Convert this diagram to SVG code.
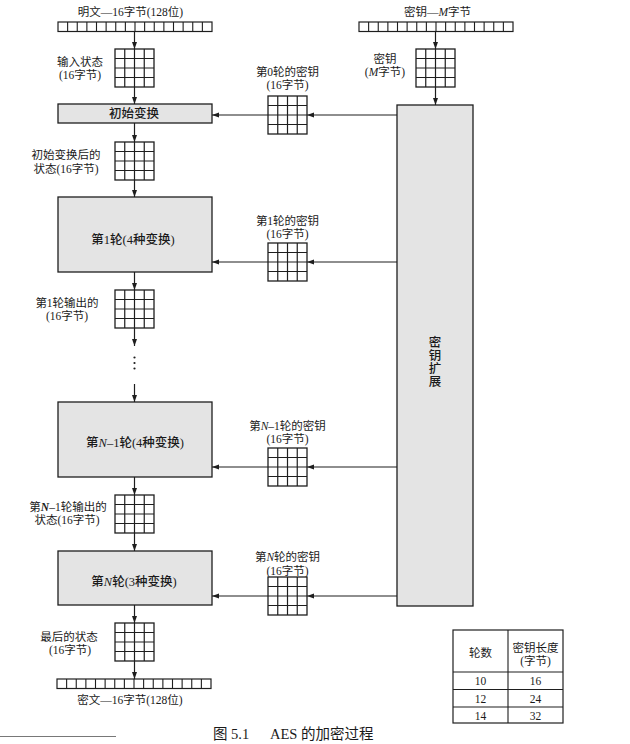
<svg xmlns="http://www.w3.org/2000/svg" width="630" height="744" viewBox="0 0 630 744">
<style>
.ln{stroke:#1e1e1e;stroke-width:1.2;fill:none}
.box{fill:#e4e4e4;stroke:#1e1e1e;stroke-width:1.3}
.t{font-family:"Liberation Serif","Noto Sans CJK SC",serif;font-size:11.5px;fill:#1a1a1a;text-anchor:middle}
.bt{font-family:"Liberation Serif","Noto Sans CJK SC",serif;font-size:12.5px;fill:#1a1a1a;text-anchor:middle;font-weight:500}
.it{font-style:italic}
.cap{font-family:"Liberation Serif","Noto Sans CJK SC",serif;font-size:14.5px;fill:#1a1a1a}
</style>
<defs>
<marker id="ah" markerUnits="userSpaceOnUse" markerWidth="8" markerHeight="6" refX="7" refY="3" orient="auto">
<path d="M0,0.5 L7,3 L0,5.5 z" fill="#1e1e1e"/>
</marker>
<g id="g4">
<rect x="0" y="0" width="39" height="38" fill="#fff" stroke="#1e1e1e" stroke-width="1.3"/>
<path d="M9.75,0V38M19.5,0V38M29.25,0V38M0,9.5H39M0,19H39M0,28.5H39" stroke="#1e1e1e" stroke-width="1.2" fill="none"/>
</g>
<g id="bar16">
<rect x="0" y="0" width="154" height="9.5" fill="#fff" stroke="#1e1e1e" stroke-width="1.2"/>
<path d="M9.625,0v9.5M19.25,0v9.5M28.875,0v9.5M38.5,0v9.5M48.125,0v9.5M57.75,0v9.5M67.375,0v9.5M77,0v9.5M86.625,0v9.5M96.25,0v9.5M105.875,0v9.5M115.5,0v9.5M125.125,0v9.5M134.75,0v9.5M144.375,0v9.5" stroke="#1e1e1e" stroke-width="1.1" fill="none"/>
</g>
</defs>
<rect x="0" y="0" width="630" height="744" fill="#fff"/>

<g id="plaintext">
<text class="t" x="130.5" y="16">明文—16字节(128位)</text>
<use href="#bar16" x="58" y="22"/>
</g>
<g id="input-state">
<use href="#g4" x="115" y="49"/>
<text class="t" x="80" y="65.5">输入状态</text>
<text class="t" x="80" y="79">(16字节)</text>
</g>
<g id="initial-transform">
<rect class="box" x="58" y="104" width="154" height="19"/>
<text class="bt" x="134" y="118">初始变换</text>
</g>
<g id="state-after-initial">
<use href="#g4" x="115" y="142"/>
<text class="t" x="66" y="159">初始变换后的</text>
<text class="t" x="66" y="172.5">状态(16字节)</text>
</g>
<g id="round1">
<rect class="box" x="58" y="197" width="154" height="75"/>
<text class="bt" x="133" y="244">第1轮(4种变换)</text>
</g>
<g id="round1-output">
<use href="#g4" x="115" y="290"/>
<text class="t" x="67" y="306.5">第1轮输出的</text>
<text class="t" x="67" y="320">(16字节)</text>
</g>
<g id="ellipsis">
<circle cx="134.5" cy="357.5" r="1.1" fill="#1e1e1e"/>
<circle cx="134.5" cy="363" r="1.1" fill="#1e1e1e"/>
<circle cx="134.5" cy="368.5" r="1.1" fill="#1e1e1e"/>
</g>
<g id="roundN-1">
<rect class="box" x="58" y="402" width="154" height="75"/>
<text class="bt" x="135" y="447">第<tspan class="it">N</tspan>–1轮(4种变换)</text>
</g>
<g id="roundN-1-output">
<use href="#g4" x="115" y="495"/>
<text class="t" x="68" y="510.5">第<tspan class="it" font-weight="bold">N</tspan>–1轮输出的</text>
<text class="t" x="67" y="524">状态(16字节)</text>
</g>
<g id="roundN">
<rect class="box" x="58" y="551" width="154" height="54"/>
<text class="bt" x="134" y="586">第<tspan class="it">N</tspan>轮(3种变换)</text>
</g>
<g id="final-state">
<use href="#g4" x="115" y="623"/>
<text class="t" x="69" y="640.5">最后的状态</text>
<text class="t" x="70" y="654">(16字节)</text>
</g>
<g id="ciphertext">
<use href="#bar16" x="57" y="679"/>
<text class="t" x="130" y="704">密文—16字节(128位)</text>
</g>

<g id="key">
<text class="t" x="437.5" y="16">密钥—<tspan class="it">M</tspan>字节</text>
<use href="#bar16" x="359" y="22"/>
</g>
<g id="key-state">
<use href="#g4" x="416" y="49"/>
<text class="t" x="385" y="62.5">密钥</text>
<text class="t" x="385" y="76">(<tspan class="it">M</tspan>字节)</text>
</g>
<g id="key-expansion">
<rect class="box" x="397" y="105" width="76" height="501"/>
<text class="bt" x="435" y="347">密</text>
<text class="bt" x="435" y="360">钥</text>
<text class="bt" x="435" y="373">扩</text>
<text class="bt" x="435" y="386">展</text>
</g>
<g id="key0">
<text class="t" x="287.5" y="75.5">第0轮的密钥</text>
<text class="t" x="287.5" y="89">(16字节)</text>
<use href="#g4" x="268" y="96"/>
</g>
<g id="key1">
<text class="t" x="287.5" y="224.5">第1轮的密钥</text>
<text class="t" x="287.5" y="238">(16字节)</text>
<use href="#g4" x="268" y="243"/>
</g>
<g id="keyN-1">
<text class="t" x="287.5" y="429.5">第<tspan class="it">N</tspan>–1轮的密钥</text>
<text class="t" x="287.5" y="443">(16字节)</text>
<use href="#g4" x="268" y="448"/>
</g>
<g id="keyN">
<text class="t" x="287.5" y="561">第<tspan class="it">N</tspan>轮的密钥</text>
<text class="t" x="287.5" y="574.5">(16字节)</text>
<use href="#g4" x="268" y="577"/>
</g>

<g id="connectors" class="ln" marker-end="url(#ah)">
<path d="M134.5,31.5V49"/>
<path d="M134.5,87V104"/>
<path d="M134.5,123V142"/>
<path d="M134.5,180V197"/>
<path d="M134.5,272V290"/>
<path d="M134.5,328V346"/>
<path d="M134.5,384V402"/>
<path d="M134.5,477V495"/>
<path d="M134.5,533V551"/>
<path d="M134.5,605V623"/>
<path d="M134.5,661V679"/>
<path d="M435.5,31.5V49"/>
<path d="M435.5,87V105"/>
<path d="M397,115H307"/>
<path d="M268,115H212"/>
<path d="M397,262H307"/>
<path d="M268,262H212"/>
<path d="M397,467H307"/>
<path d="M268,467H212"/>
<path d="M397,596H307"/>
<path d="M268,596H212"/>
</g>

<g id="table">
<rect x="453" y="630" width="110" height="93" fill="#fff" stroke="#1e1e1e" stroke-width="1.2"/>
<path d="M508,630V723M453,672H563M453,689.5H563M453,707H563" stroke="#1e1e1e" stroke-width="1.1" fill="none"/>
<text class="t" x="480.5" y="657">轮数</text>
<text class="t" x="535.5" y="651.5">密钥长度</text>
<text class="t" x="535.5" y="665">(字节)</text>
<text class="t" x="480.5" y="685">10</text>
<text class="t" x="535.5" y="685">16</text>
<text class="t" x="480.5" y="702.5">12</text>
<text class="t" x="535.5" y="702.5">24</text>
<text class="t" x="480.5" y="720">14</text>
<text class="t" x="535.5" y="720">32</text>
</g>

<g id="caption">
<path d="M0,736.5H116" stroke="#555" stroke-width="0.8"/>
<text class="cap" x="213" y="739">图 5.1</text>
<text class="cap" x="270" y="739">AES 的加密过程</text>
</g>
</svg>
